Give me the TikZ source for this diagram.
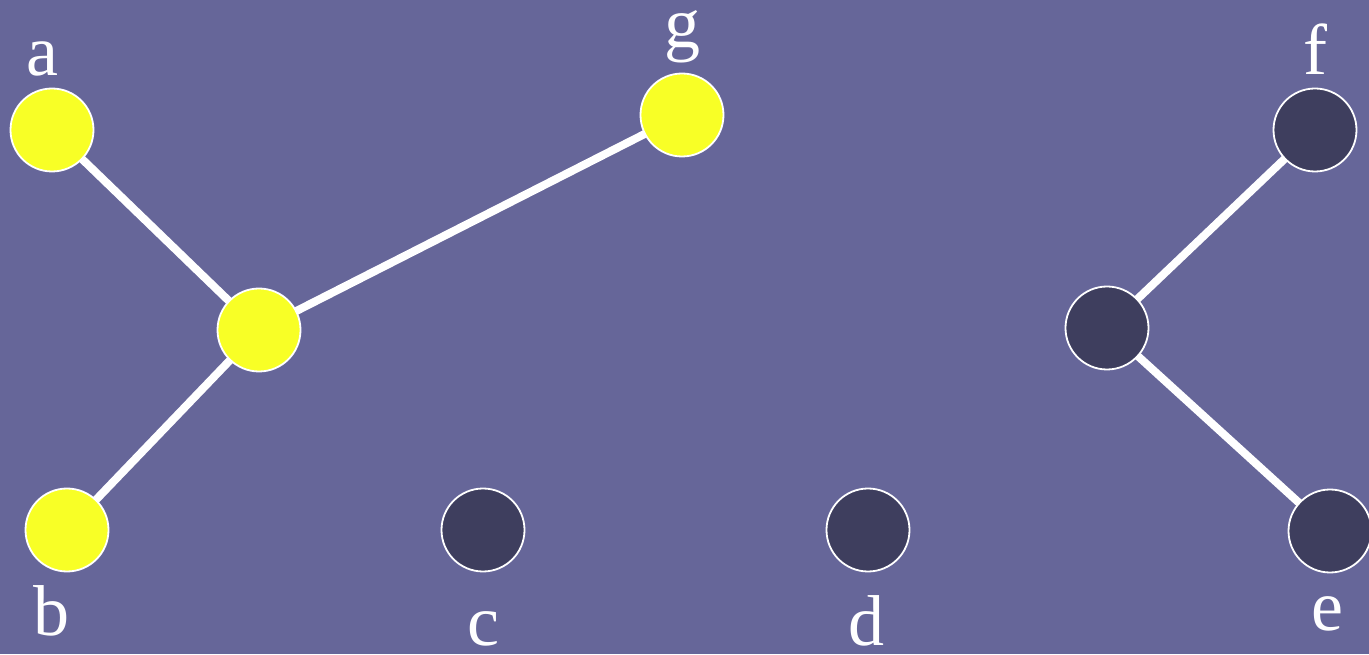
\documentclass[tikz,border=0pt]{standalone}
\usepackage{fontspec}
\setmainfont{Liberation Serif}
\usepackage{tikz}
\usetikzlibrary{positioning,backgrounds}
\definecolor{cBack}{RGB}{102,102,153}
\definecolor{cOn}{RGB}{248,255,38}
\definecolor{cOff}{RGB}{62,62,94}

\begin{document}
\begin{tikzpicture}[x=1pt,y=1pt,font=\fontsize{72}{72}\selectfont,
  vert/.style={circle,draw=white,line width=1.8pt,minimum size=83pt,inner sep=0pt},
  on/.style={vert,fill=cOn},
  off/.style={vert,fill=cOff},
  edge/.style={draw=white,line width=8pt},
  lab/.style={text=white,anchor=base,inner sep=0pt}]
  \useasboundingbox (0,0) rectangle (1369,654);
  % yellow component
  \node[on] (a) at (52,524) {};
  \node[on] (g) at (682,539) {};
  \node[on] (hubL) at (259,324) {};
  \node[on] (b) at (67,124) {};
  % isolated vertices
  \node[off] (c) at (483,124) {};
  \node[off] (d) at (868,124) {};
  % dark component
  \node[off] (f) at (1315,524) {};
  \node[off] (hubR) at (1107,326) {};
  \node[off] (e) at (1330,123) {};
  % labels
  \node[lab] (la) at (42,578) {a};
  \node[lab] (lg) at (682,606) {g};
  \node[lab] (lb) at (52,19) {b};
  \node[lab] (lc) at (483,9) {c};
  \node[lab] (ld) at (866,9) {d};
  \node[lab] (lf) at (1315,579) {f};
  \node[lab] (le) at (1327,24) {e};
  \begin{scope}[on background layer]
    \fill[cBack] (0,0) rectangle (1369,654);
    \draw[edge] (a.center) -- (hubL.center);
    \draw[edge] (g.center) -- (hubL.center);
    \draw[edge] (b.center) -- (hubL.center);
    \draw[edge] (f.center) -- (hubR.center);
    \draw[edge] (e.center) -- (hubR.center);
  \end{scope}
\end{tikzpicture}
\end{document}
